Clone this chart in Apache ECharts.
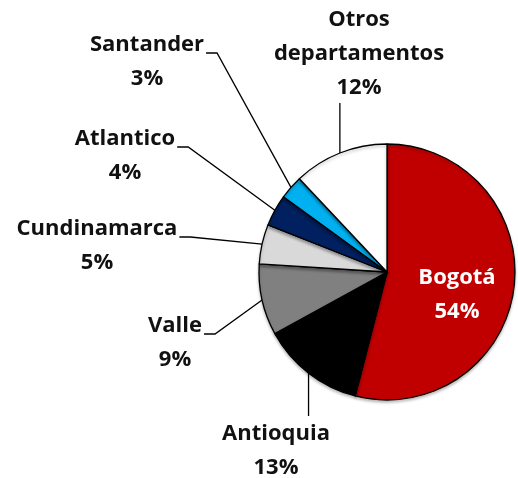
<!DOCTYPE html>
<html>
<head>
<meta charset="utf-8">
<script src="https://cdn.jsdelivr.net/npm/echarts@6/dist/echarts.min.js"></script>
<style>
  html, body { margin: 0; padding: 0; background: #fff; }
  #chart { width: 518px; height: 478px; }
</style>
</head>
<body>
<div id="chart"></div>
<script>
// data
const departments = ['Bogotá', 'Antioquia', 'Valle', 'Cundinamarca', 'Atlantico', 'Santander', 'Otros departamentos'];
const shares = [54, 13, 9, 5, 4, 3, 12];
const sliceColors = ['#C00000', '#000000', '#808080', '#D9D9D9', '#002060', '#00B0F0', '#FFFFFF'];

// where each label block sits (centre) and how its leader line runs
const labelSpots = [
  { x: 457, y: 295, line: 'none' },
  { x: 276, y: 451, line: 'below' },
  { x: 175, y: 343, line: 'side' },
  { x: 97, y: 246, line: 'side' },
  { x: 125, y: 156, line: 'side' },
  { x: 147, y: 62, line: 'side' },
  { x: 359, y: 54, line: 'above' }
];

const LH = 34;
const chart = echarts.init(document.getElementById('chart'));

chart.setOption({
  animation: false,
  series: [{
    type: 'pie',
    center: [387, 272],
    radius: 128,
    startAngle: 90,
    clockwise: true,
    avoidLabelOverlap: false,
    itemStyle: {
      borderColor: '#000',
      borderWidth: 1.3,
      shadowBlur: 3,
      shadowOffsetY: 2,
      shadowColor: 'rgba(0,0,0,0.25)'
    },
    label: {
      show: true,
      position: 'outside',
      fontFamily: 'Open Sans',
      fontWeight: 'bold',
      fontSize: 22,
      lineHeight: LH,
      color: '#111',
      align: 'center',
      formatter: p => p.name.split(' ').join('\n') + '\n' + p.value + '%'
    },
    labelLine: {
      show: true,
      length: 10,
      length2: 10,
      lineStyle: { color: '#000', width: 1.3 }
    },
    labelLayout: function (params) {
      const spot = labelSpots[params.dataIndex];
      const w = params.labelRect.width;
      const h = params.labelRect.height;
      const out = { x: spot.x, y: spot.y, align: 'center', verticalAlign: 'middle' };
      const pts = params.labelLinePoints;
      if (!pts || spot.line === 'none') return out;
      const edge = pts[0];
      const right = spot.x + w / 2;
      const top = spot.y - h / 2, bottom = spot.y + h / 2;
      if (spot.line === 'side') {
        const sy = top + LH / 2 + 8;
        out.labelLinePoints = [edge, [right + 13, sy], [right + 2, sy]];
      } else if (spot.line === 'below') {
        out.labelLinePoints = [edge, [edge[0], (edge[1] + top) / 2], [edge[0], top - 1]];
      } else if (spot.line === 'above') {
        out.labelLinePoints = [edge, [edge[0], (edge[1] + bottom) / 2], [edge[0], bottom - 2]];
      }
      return out;
    },
    data: departments.map((name, i) => ({
      name: name,
      value: shares[i],
      itemStyle: { color: sliceColors[i] },
      label: i === 0 ? { position: 'inside', color: '#fff' } : undefined,
      labelLine: i === 0 ? { show: false } : undefined
    }))
  }]
});
</script>
</body>
</html>
